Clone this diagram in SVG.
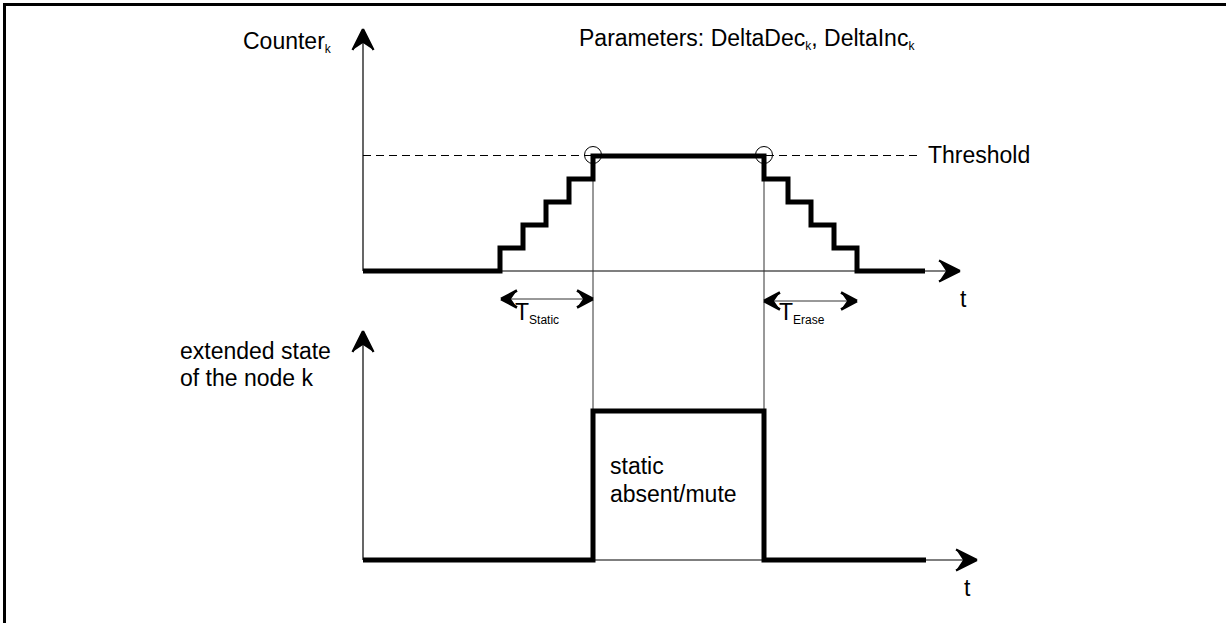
<svg xmlns="http://www.w3.org/2000/svg" width="1226" height="623" viewBox="0 0 1226 623">
<style>
text{font-family:"Liberation Sans",Arial,sans-serif;fill:#000}
tspan{fill:#000}
.lbl{font-size:23px}
.sub{font-size:12px}
.axis{stroke:#000;stroke-width:1.2;fill:none}
.thin{stroke:#333;stroke-width:1;fill:none}
.sig{stroke:#000;stroke-width:5;fill:none;stroke-linejoin:miter;stroke-linecap:butt}
.dash{stroke:#000;stroke-width:1;fill:none;stroke-dasharray:8,5}
.head{fill:#000;stroke:none}
</style>
<defs>
<marker id="ah" viewBox="0 0 24 24" refX="22" refY="12" markerWidth="24" markerHeight="24" markerUnits="userSpaceOnUse" orient="auto-start-reverse">
<path d="M22,12 L1,1.5 L8,12 L1,22.5 Z" class="head"/>
<path d="M22,12 L1,1.5 M22,12 L1,22.5" stroke="#000" stroke-width="2.2" fill="none"/>
</marker>
<marker id="dh" viewBox="0 0 20 20" refX="18" refY="10" markerWidth="20" markerHeight="20" markerUnits="userSpaceOnUse" orient="auto-start-reverse">
<path d="M18,10 L2,1.5 L8,10 L2,18.5 Z" class="head"/>
<path d="M18,10 L2,1.5 M18,10 L2,18.5" stroke="#000" stroke-width="2.6" fill="none"/>
</marker>
</defs>
<rect x="4.5" y="4.5" width="1260" height="660" fill="none" stroke="#000" stroke-width="3"/>

<g id="connectors">
<line class="axis" x1="363" y1="271" x2="363" y2="29" marker-end="url(#ah)"/>
<line class="axis" x1="363" y1="271" x2="960" y2="271" marker-end="url(#ah)"/>
<line class="axis" x1="363" y1="560" x2="363" y2="331" marker-end="url(#ah)"/>
<line class="axis" x1="363" y1="560" x2="977" y2="560" marker-end="url(#ah)"/>
<line class="dash" x1="363" y1="155.5" x2="920" y2="155.5"/>
<line class="thin" x1="593" y1="156" x2="593" y2="411"/>
<line class="thin" x1="764" y1="156" x2="764" y2="411"/>
<line class="thin" x1="501" y1="299" x2="593" y2="299" marker-start="url(#dh)" marker-end="url(#dh)"/>
<line class="thin" x1="764" y1="301" x2="857" y2="301" marker-start="url(#dh)" marker-end="url(#dh)"/>
</g>

<g id="counter-signal">
<polyline class="sig" points="363,271 500,271 500,248 523,248 523,225 546,225 546,202 569,202 569,179 593,179 593,156 764,156 764,179 788,179 788,202 811,202 811,225 834,225 834,248 857,248 857,271 925,271"/>
<circle cx="593" cy="155" r="8.5" fill="none" stroke="#000" stroke-width="1"/>
<circle cx="764" cy="155" r="8.5" fill="none" stroke="#000" stroke-width="1"/>
</g>

<g id="state-signal">
<polyline class="sig" points="363,560 593,560 593,411 764,411 764,560 926,560"/>
</g>

<g id="labels">
<text class="lbl" x="243" y="49">Counter<tspan class="sub" dy="4">k</tspan></text>
<text class="lbl" x="579" y="46">Parameters: DeltaDec<tspan class="sub" dy="4">k</tspan><tspan dy="-4">, DeltaInc</tspan><tspan class="sub" dy="4">k</tspan></text>
<text class="lbl" x="928" y="163">Threshold</text>
<text class="lbl" x="960" y="307">t</text>
<text class="lbl" x="964" y="596">t</text>
<text class="lbl" x="515" y="320">T<tspan class="sub" dy="4">Static</tspan></text>
<text class="lbl" x="779" y="320">T<tspan class="sub" dy="4">Erase</tspan></text>
<text class="lbl" x="180" y="359">extended state</text>
<text class="lbl" x="180" y="386">of the node k</text>
<text class="lbl" x="610" y="474">static</text>
<text class="lbl" x="610" y="502">absent/mute</text>
</g>
</svg>
